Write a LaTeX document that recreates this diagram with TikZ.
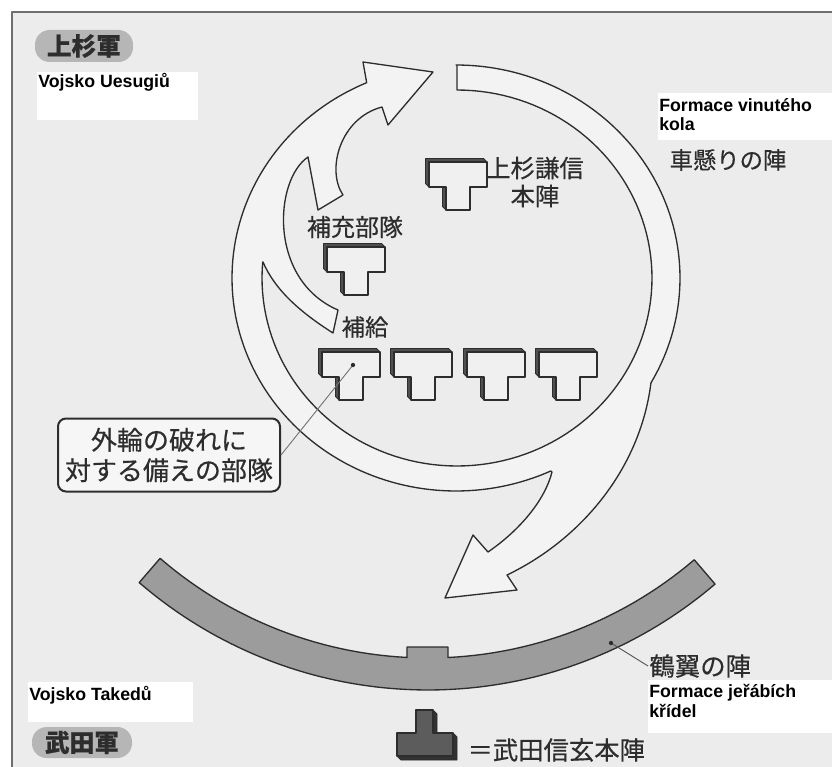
\documentclass[tikz,border=0pt]{standalone}
\usepackage{fontspec}
\setmainfont{Liberation Sans}
\newfontfamily\jp{Noto Sans CJK JP}[FakeBold=0.5]
\newfontfamily\cz{Liberation Sans}
\definecolor{bg}{RGB}{236,236,236}
\definecolor{bandfill}{RGB}{243,243,243}
\definecolor{ink}{RGB}{45,45,45}
\definecolor{framec}{RGB}{110,110,110}
\definecolor{pillc}{RGB}{182,182,182}
\definecolor{cranec}{RGB}{156,156,156}
\definecolor{ushade}{RGB}{80,80,80}
\definecolor{iconfill}{RGB}{240,240,240}
\definecolor{tfront}{RGB}{92,92,92}
\definecolor{tshade}{RGB}{50,50,50}
\begin{document}
\begin{tikzpicture}[x=0.75pt,y=-0.75pt,line join=round,
  spiral/.style={draw=ink,line width=1pt,fill=bandfill},
  craneband/.style={draw=ink,line width=1pt,fill=cranec},
  jplab/.style={font=\jp\fontsize{18}{21}\selectfont,text=ink,inner sep=1pt},
  czlab/.style={font=\cz\bfseries\fontsize{13.3}{15}\selectfont,text=black,inner sep=0pt,anchor=base west},
  pillnode/.style={fill=pillc,rounded corners=11pt,minimum width=73.5pt,minimum height=24pt,inner sep=0pt,
    font=\jp\bfseries\fontsize{18.5}{18.5}\selectfont,text=ink},
  callout/.style={draw=ink,line width=1.5pt,rounded corners=6pt,fill=white!55!bg,minimum width=166.5pt,
    minimum height=54.75pt,align=center,inner sep=2pt,font=\jp\fontsize{19.5}{22.8}\selectfont,text=ink},
  leader/.style={draw=ink!80,line width=0.7pt},
  uicon/.pic={
    \filldraw[fill=ushade,draw=ink,line width=0.6pt]
      (0,25) -- (-3.5,21.5) -- (-3.5,-3.5) -- (54.5,-3.5) -- (58,0) -- (58,25) -- (41,25) -- (41,48)
      -- (17,48) -- (13.5,44.5) -- (13.5,21.5) -- (17,25) -- cycle;
    \filldraw[fill=iconfill,draw=ink,line width=0.8pt]
      (0,0) -- (58,0) -- (58,25) -- (41,25) -- (41,48) -- (17,48) -- (17,25) -- (0,25) -- cycle;
  },
  ticon/.pic={
    \filldraw[fill=tshade,draw=ink,line width=0.6pt]
      (19,0) -- (36,0) -- (40,4) -- (40,23) -- (56,23) -- (60,27) -- (60,50) -- (4,50) -- (0,46)
      -- (0,23) -- (19,23) -- cycle;
    \filldraw[fill=tfront,draw=ink,line width=0.8pt]
      (19,0) -- (36,0) -- (36,23) -- (56,23) -- (56,46) -- (0,46) -- (0,23) -- (19,23) -- cycle;
  }]
\useasboundingbox (0,0) rectangle (832,767);
% background and frame
\fill[white] (0,0) rectangle (832,767);
\fill[bg] (12,12) rectangle (832,767);
\draw[framec,line width=1pt] (12,767) -- (12,12) -- (832,12);

% white label boxes
\fill[white] (37,72) rectangle (198,120);
\fill[white] (658,93) rectangle (832,140);
\fill[white] (28,682) rectangle (193,722);
\fill[white] (648,680) rectangle (832,733);

% crane wing formation band
\path[craneband]
  plot[domain=49.5:130.8,samples=80] ({428+442*cos(\x)},{248+442*sin(\x)})
  -- plot[domain=0:37.86,samples=30] ({428+410*cos(130.8-\x)},{248+410*sin(130.8-\x)})
  -- (407,647) -- (448,647)
  -- plot[domain=0:37.7,samples=30] ({428+410*cos(87.2-\x)},{248+410*sin(87.2-\x)})
  -- cycle;

% rotating wheel spiral
\path[spiral] (457,65)
  -- plot[domain=-90:29.5,samples=80] ({456+224*cos(\x)},{278+213*sin(\x)})
  .. controls (640,470) and (580,540) .. (507,575)
  -- (517,590) -- (445,598) -- (473,535) -- (488,552)
  .. controls (520,530) and (545,500) .. (552,472)
  -- plot[domain=65:246.5,samples=110] ({456+224*cos(\x)},{278+213*sin(\x)})
  -- (363,62) -- (433,72) -- (388,125) -- (382,107)
  .. controls (340,118) and (326,170) .. (343,195)
  -- (318,210) -- (308,157)
  .. controls (274,180) and (268,280) .. (338,310)
  -- (333,333)
  .. controls (300,312) and (275,290) .. (263,262)
  -- plot[domain=0:274.9,samples=120] ({457+195*cos(184.9-\x)},{278+188*sin(184.9-\x)})
  -- cycle;

% Uesugi units
\pic (uKenshin) at (429,162) {uicon};
\pic (uHojuu) at (327,247) {uicon};
\pic (uRow1) at (322,352) {uicon};
\pic (uRow2) at (394,352) {uicon};
\pic (uRow3) at (467,352) {uicon};
\pic (uRow4) at (539,352) {uicon};

% Takeda headquarters icon
\pic (tHonjin) at (397,710) {ticon};

% army pills
\node[pillnode] (uesugiArmy) at (84,46) {上杉軍};
\node[pillnode,minimum width=75pt,minimum height=23.25pt] (takedaArmy) at (82,742.5) {武田軍};

% Czech labels
\node[czlab] (czUesugi) at (38,88) {Vojsko Uesugiů};
\node[czlab] (czWheel1) at (659,112) {Formace vinutého};
\node[czlab] (czWheel2) at (659,130.5) {kola};
\node[czlab] (czTakeda) at (29,700) {Vojsko Takedů};
\node[czlab] (czCrane1) at (649,697) {Formace jeřábích};
\node[czlab] (czCrane2) at (649,717) {křídel};

% Japanese labels
\node[jplab,font=\jp\fontsize{17.5}{21}\selectfont] (kuruma) at (728,160) {車懸りの陣};
\node[jplab,align=center,font=\jp\fontsize{18.3}{21}\selectfont] (kenshinLab) at (535,182) {上杉謙信\\本陣};
\node[jplab] (hojuuLab) at (355,227) {補充部隊};
\node[jplab,font=\jp\fontsize{17.5}{21}\selectfont] (hokyuLab) at (365,327) {補給};
\node[jplab,anchor=west,font=\jp\fontsize{19}{21}\selectfont] (kakuyoku) at (648,666) {鶴翼の陣};
\node[jplab,anchor=west,font=\jp\fontsize{19}{21}\selectfont] (shingen) at (466,750) {＝武田信玄本陣};

% callout
\node[callout] (callout) at (169,455) {外輪の破れに\\対する備えの部隊};

% leaders
\coordinate (dotRow) at (353,365);
\coordinate (dotCrane) at (611,643);
\draw[leader,draw=ink!65] (callout.east) -- (dotRow);
\fill[ink] (dotRow) circle (1.6pt);
\draw[leader] (kakuyoku.west) -- (dotCrane);
\fill[ink] (dotCrane) circle (1.6pt);
\end{tikzpicture}
\end{document}
